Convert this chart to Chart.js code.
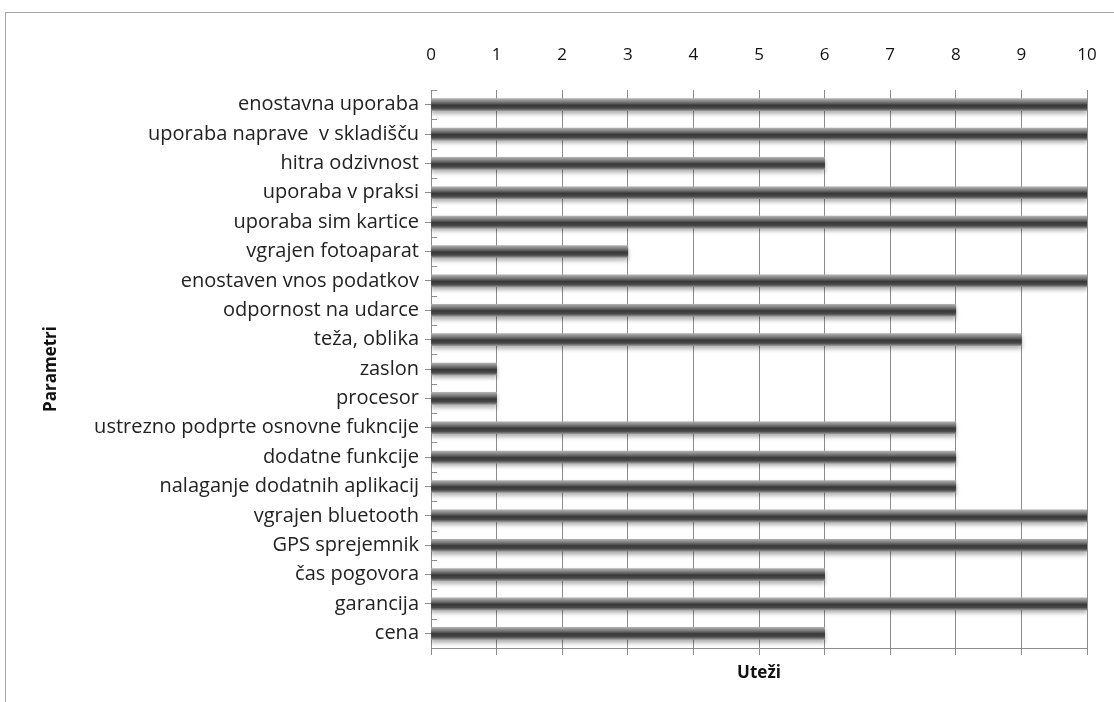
<!DOCTYPE html>
<html lang="sl">
<head>
  <meta charset="UTF-8">
  <title>Parametri / Uteži</title>
  <script src="https://cdn.jsdelivr.net/npm/chart.js"></script>
  <style>
    body { margin: 0; overflow: hidden; background: #fff; }
    #frame { position: absolute; left: 5px; top: 12px; width: 1300px; height: 900px; border: 1px solid #a6a6a6; }
    #wrap { position: absolute; left: 0; top: 0; width: 1114px; height: 702px; }
  </style>
</head>
<body>
  <div id="frame"></div>
  <div id="wrap">
    <canvas id="myChart" width="1114" height="702"></canvas>
  </div>

  <script>
    // podatki
    const parametri = [
      "enostavna uporaba", "uporaba naprave  v skladišču", "hitra odzivnost",
      "uporaba v praksi", "uporaba sim kartice", "vgrajen fotoaparat",
      "enostaven vnos podatkov", "odpornost na udarce", "teža, oblika",
      "zaslon", "procesor", "ustrezno podprte osnovne fukncije",
      "dodatne funkcije", "nalaganje dodatnih aplikacij", "vgrajen bluetooth",
      "GPS sprejemnik", "čas pogovora", "garancija", "cena"
    ];
    const utezi = [10, 10, 6, 10, 10, 3, 10, 8, 9, 1, 1, 8, 8, 8, 10, 10, 6, 10, 6];
    const xMin = 0;
    const xMax = 10;

    const gridColor = "#8c8c8c";
    const fontFam = "'Open Sans', sans-serif";

    // gradient "valj" za vsak stolpec
    function barGradient(context) {
      const chart = context.chart;
      const y = chart.scales.y;
      if (!y) return "#555";
      const c = y.getPixelForValue(context.dataIndex);
      if (!isFinite(c)) return "#555";
      const g = chart.ctx.createLinearGradient(0, c - 6, 0, c + 6);
      g.addColorStop(0, "#b0b0b0");
      g.addColorStop(0.3, "#747474");
      g.addColorStop(0.55, "#373737");
      g.addColorStop(0.8, "#4a4a4a");
      g.addColorStop(1, "#949494");
      return g;
    }

    // senca pod stolpci
    const shadowPlugin = {
      id: "shadow",
      beforeDatasetsDraw(chart) {
        const ctx = chart.ctx;
        ctx.save();
        ctx.shadowColor = "rgba(0,0,0,0.3)";
        ctx.shadowOffsetY = 3;
        ctx.shadowBlur = 4;
      },
      afterDatasetsDraw(chart) {
        chart.ctx.restore();
      }
    };

    // kratke notranje oznake med kategorijami
    const innerTicks = {
      id: "innerTicks",
      afterDraw(chart) {
        const y = chart.scales.y;
        const ctx = chart.ctx;
        const x0 = chart.chartArea.left;
        ctx.save();
        ctx.strokeStyle = gridColor;
        ctx.lineWidth = 1;
        ctx.beginPath();
        for (let i = 0; i <= parametri.length; i++) {
          const py = Math.round(y.getPixelForValue(i - 0.5)) + 0.5;
          ctx.moveTo(x0, py);
          ctx.lineTo(x0 + 6, py);
        }
        ctx.stroke();
        ctx.restore();
      }
    };

    function noSidePad(s) {
      s.paddingLeft = 0;
      s.paddingRight = 0;
    }

    function drawChart() {
      const ctx = document.getElementById("myChart").getContext("2d");

      new Chart(ctx, {
        type: "bar",
        data: {
          labels: parametri,
          datasets: [{
            data: utezi,
            backgroundColor: barGradient,
            borderWidth: 0,
            barThickness: 12
          }]
        },
        options: {
          indexAxis: "y",
          responsive: false,
          animation: false,
          layout: { padding: { left: 10, right: 27, top: 0, bottom: 0 } },
          plugins: {
            legend: { display: false },
            tooltip: { enabled: false }
          },
          scales: {
            x: {
              position: "top",
              min: xMin,
              max: xMax,
              ticks: {
                stepSize: 1,
                padding: 25,
                color: "#111",
                font: { family: fontFam, size: 17 }
              },
              grid: { color: gridColor, drawTicks: false },
              border: { display: false },
              afterFit(s) { s.height = 90; noSidePad(s); }
            },
            x2: {
              position: "bottom",
              min: xMin,
              max: xMax,
              ticks: { stepSize: 1, callback: () => "" },
              grid: { drawOnChartArea: false, color: gridColor, tickLength: 7 },
              border: { display: true, color: gridColor },
              title: {
                display: true,
                text: "Uteži",
                color: "#111",
                font: { family: fontFam, size: 17, weight: "bold" },
                padding: { top: 0, bottom: 19 }
              },
              afterFit(s) { s.height = 54; noSidePad(s); }
            },
            y: {
              ticks: {
                color: "#222",
                padding: 6,
                font: { family: fontFam, size: 20 }
              },
              grid: { drawOnChartArea: false, offset: false, color: gridColor, tickLength: 6 },
              border: { display: true, color: gridColor },
              title: {
                display: true,
                text: "Parametri",
                color: "#111",
                font: { family: fontFam, size: 17, weight: "bold" },
                padding: { top: 31, bottom: 0 }
              },
              afterFit(s) { s.width = 421; }
            }
          }
        },
        plugins: [shadowPlugin, innerTicks]
      });
    }

    document.addEventListener("DOMContentLoaded", drawChart);
  </script>
</body>
</html>
